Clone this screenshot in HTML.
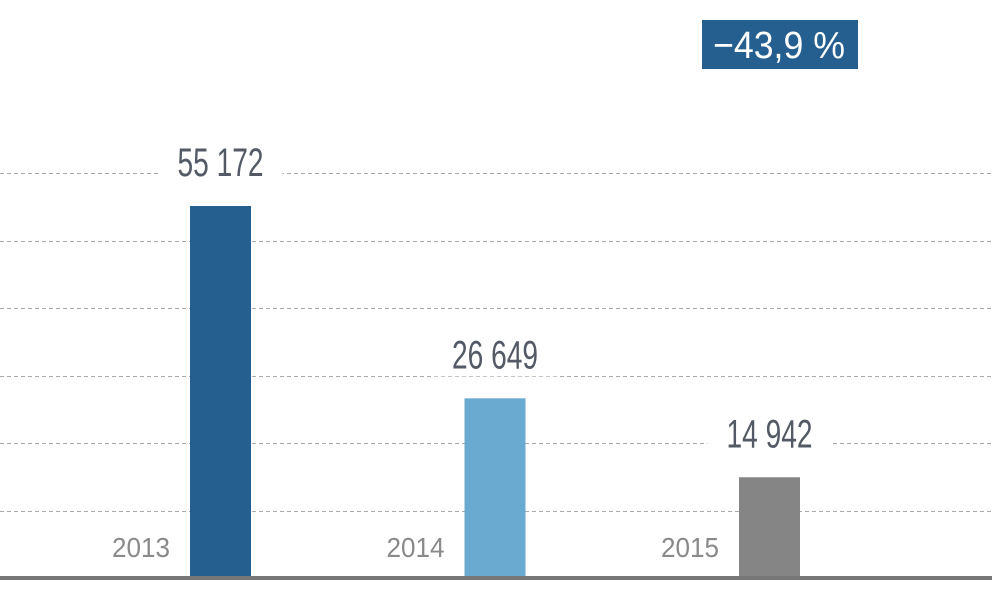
<!DOCTYPE html>
<html><head><meta charset="utf-8"><style>
html,body{margin:0;padding:0;background:#fff;}
svg{display:block;font-family:"Liberation Sans Narrow","Liberation Sans",sans-serif;}
</style></head><body>
<svg id="chart" width="992" height="612" viewBox="0 0 992 612">
<g id="grid"></g>
<g id="bars"></g>
<rect x="0" y="576" width="992" height="4" fill="#777"/>
<g>
<rect x="702" y="20" width="156" height="49" fill="#255f8f"/>
<text x="779" y="58" text-anchor="middle" font-size="38" fill="#fff" textLength="132" lengthAdjust="spacingAndGlyphs">−43,9 %</text>
</g>
</svg>
<script>
const categories = ["2013","2014","2015"];
const values = [55172, 26649, 14942];
const labels = ["55 172","26 649","14 942"];
const gridTicks = [10000,20000,30000,40000,50000,60000];
const colors = ["#255f8f","#6aaad0","#858585"];
const NS="http://www.w3.org/2000/svg";
const base=578, pxPer=372/55172;
const y=v=>base-v*pxPer;
const x=i=>190+i*274.5;
const bw=61;
const grid=document.getElementById('grid'), bars=document.getElementById('bars');
gridTicks.forEach(t=>{
  const l=document.createElementNS(NS,'line');
  
  
  const yy=Math.round(y(t))+0.5;
  l.setAttribute('x1',0);l.setAttribute('x2',992);l.setAttribute('y1',yy);l.setAttribute('y2',yy);
  l.setAttribute('stroke','#aaa');l.setAttribute('stroke-dasharray','4,3');l.setAttribute('stroke-width','1');
  grid.appendChild(l);
});
categories.forEach((c,i)=>{
  const r=document.createElementNS(NS,'rect');
  
  
  r.setAttribute('x',x(i));r.setAttribute('width',bw);
  r.setAttribute('y',y(values[i]));r.setAttribute('height',base-y(values[i]));
  r.setAttribute('fill',colors[i]);
  bars.appendChild(r);
  const cx=x(i)+bw/2;
  const bg=document.createElementNS(NS,'rect');
  
  
  bg.setAttribute('x',cx-62);bg.setAttribute('width',124);
  bg.setAttribute('y',y(values[i])-66);bg.setAttribute('height',44);bg.setAttribute('fill','#fff');
  bars.appendChild(bg);
  const t=document.createElementNS(NS,'text');
  
  
  t.setAttribute('x',cx);t.setAttribute('y',y(values[i])-30);
  t.setAttribute('text-anchor','middle');t.setAttribute('font-size','40');
  t.setAttribute('fill','#535a66');t.setAttribute('textLength','86');t.setAttribute('lengthAdjust','spacingAndGlyphs');
  t.textContent=labels[i];
  bars.appendChild(t);
  const yl=document.createElementNS(NS,'text');
  
  
  yl.setAttribute('x',x(i)-20);yl.setAttribute('y',557);
  yl.setAttribute('text-anchor','end');yl.setAttribute('font-size','28');
  yl.setAttribute('fill','#8a8a8a');yl.setAttribute('textLength','58');yl.setAttribute('lengthAdjust','spacingAndGlyphs');
  yl.textContent=c;
  bars.appendChild(yl);
});
</script>
</body></html>
